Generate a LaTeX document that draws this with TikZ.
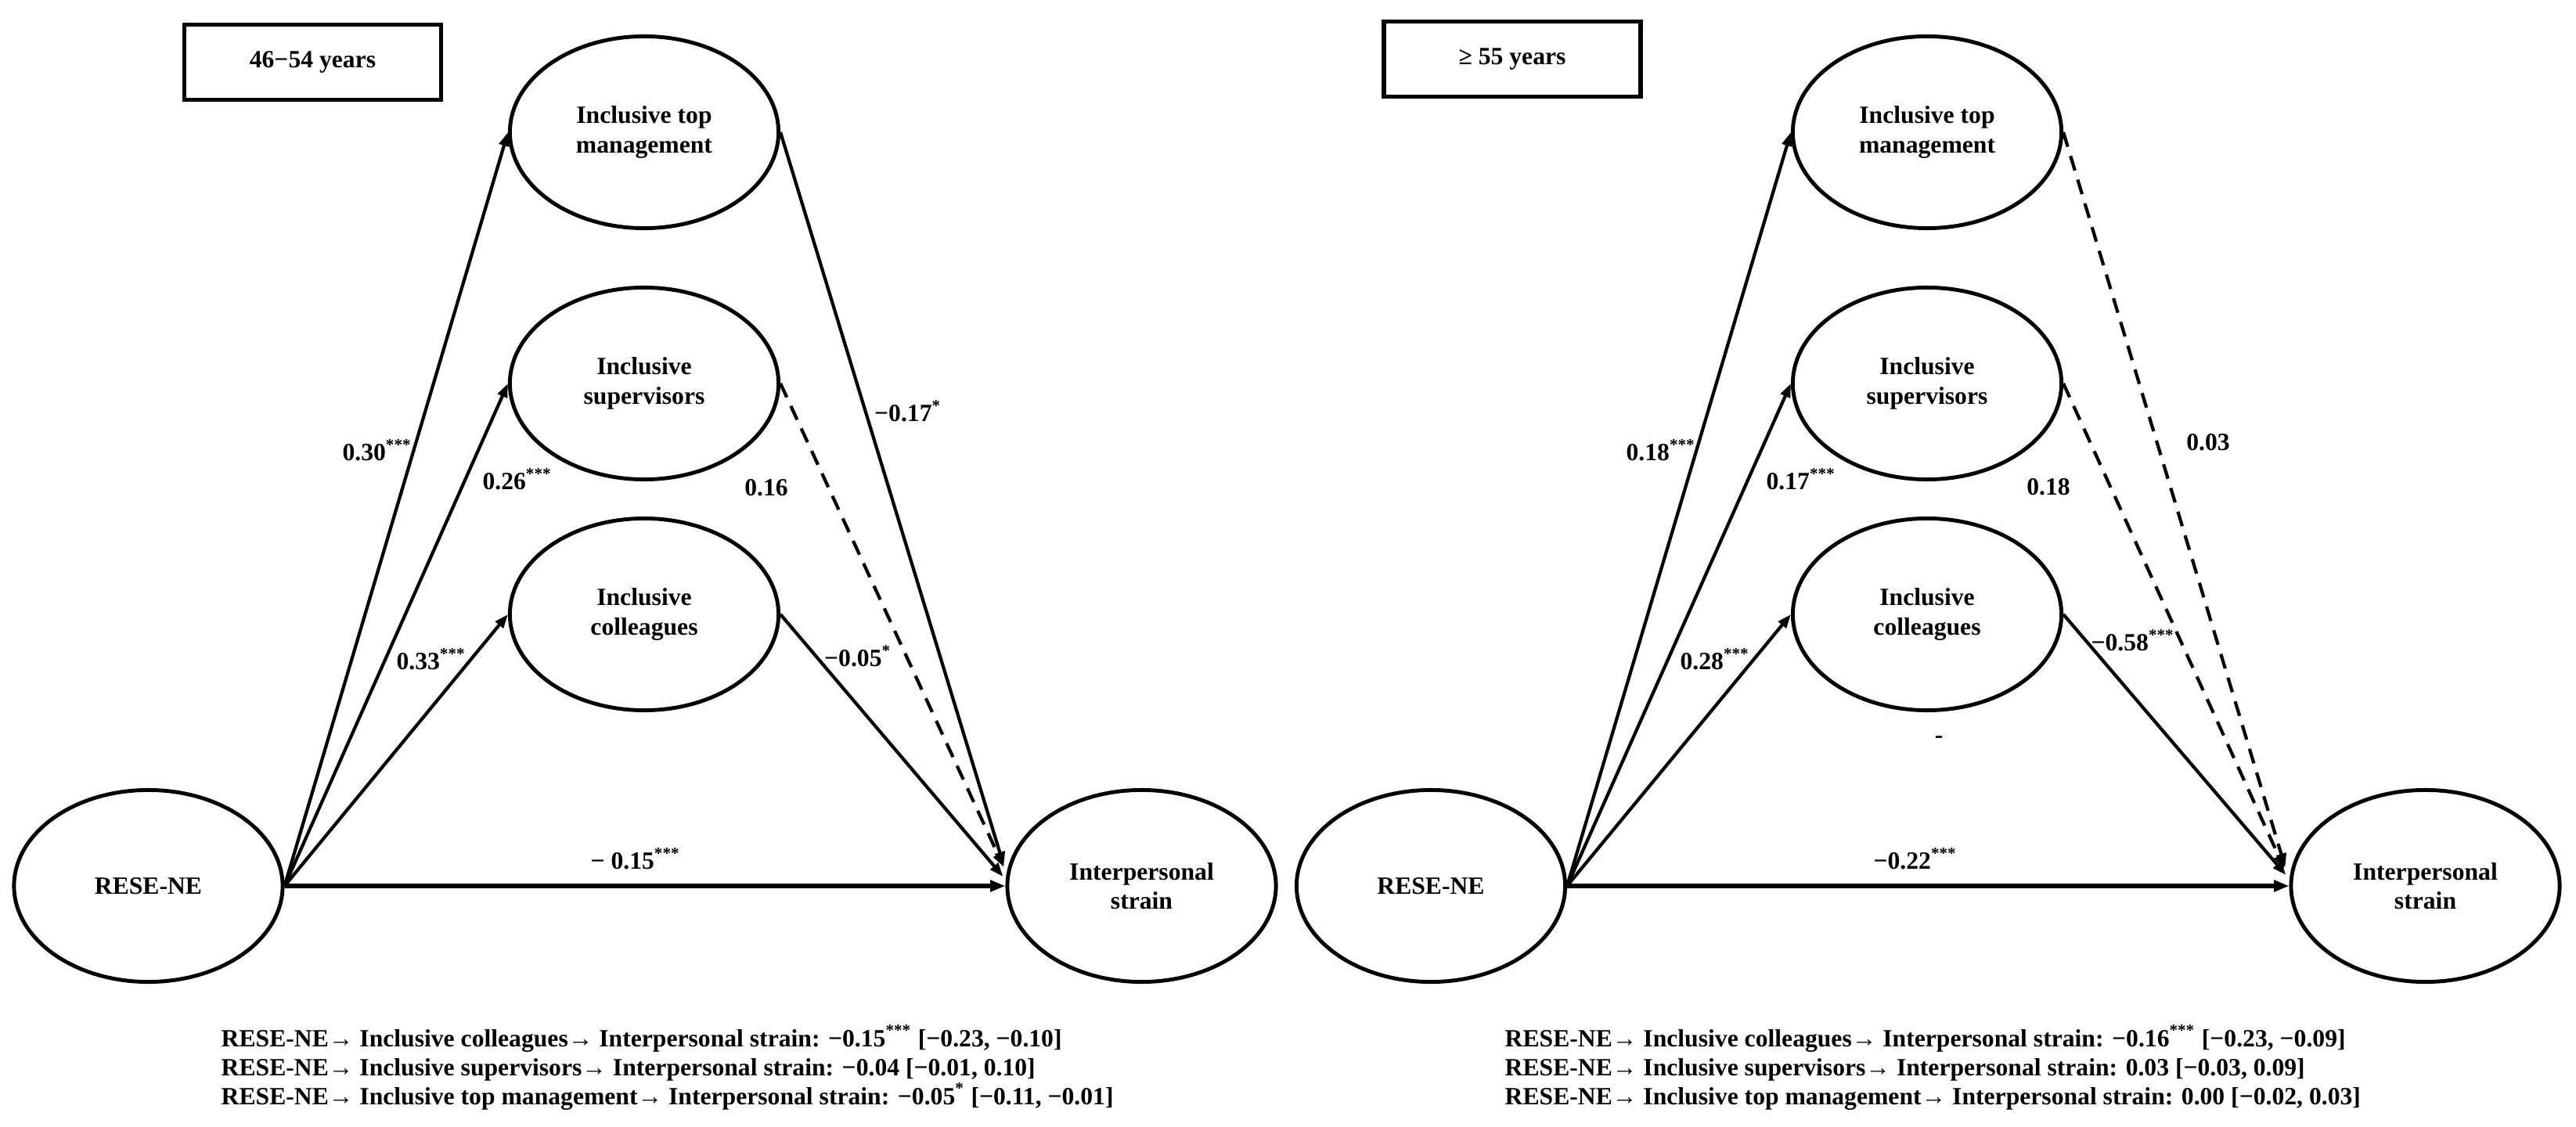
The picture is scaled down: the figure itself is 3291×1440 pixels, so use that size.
\documentclass[tikz,border=0pt]{standalone}
\usepackage{fontspec}
\setmainfont{Liberation Serif}
\usetikzlibrary{shapes.geometric,arrows.meta,calc}
\newcommand\dfont{\fontsize{9pt}{10.6pt}\selectfont\bfseries}
\newcommand\sig[1]{\textsuperscript{#1}}
\tikzset{
  lat/.style={ellipse, draw, line width=1.4pt, minimum width=3.43cm, minimum height=2.45cm, inner sep=0pt, align=center, font=\dfont},
  agebox/.style={draw, line width=1.5pt, minimum width=3.28cm, minimum height=0.96cm, inner sep=0pt, font=\dfont},
  arr/.style={line width=1.2pt, -{Triangle[length=5pt,width=3.6pt]}},
  arrdash/.style={arr, dash pattern=on 5.5pt off 3.5pt},
  arrdirect/.style={line width=1.7pt, -{Triangle[length=5.5pt,width=4pt]}},
  coef/.style={font=\dfont, inner sep=1pt},
  note/.style={font=\dfont, inner sep=0pt, anchor=base west},
}
\begin{document}
\begin{tikzpicture}[x=0.01cm,y=-0.01cm]
\useasboundingbox (0,0) rectangle (3291,1440);
\fill[white] (0,0) rectangle (3291,1440);

% ---------------- left panel ----------------
\node[agebox] (Lage) at (399.5,79.5) {46−54 years};
\node[lat] (Ltop) at (823,169) {Inclusive top\\management};
\node[lat] (Lsup) at (823,490) {Inclusive\\supervisors};
\node[lat] (Lcol) at (823,785) {Inclusive\\colleagues};
\node[lat] (Lx) at (189.5,1132) {RESE-NE};
\node[lat] (Ly) at (1458.5,1132) {Interpersonal\\strain};

\coordinate (Lyt) at ($(Ly.west)+(-2,-26)$);
\coordinate (Lys) at ($(Ly.west)+(-2,-24)$);
\coordinate (Lyc) at ($(Ly.west)+(-3,-12)$);

\draw[arr] (Lx.east) -- (Ltop.west);
\draw[arr] (Lx.east) -- (Lsup.west);
\draw[arr] (Lx.east) -- (Lcol.west);
\draw[arrdirect] (Lx.east) -- (Ly.west);
\draw[arr] (Ltop.east) -- (Lyt);
\draw[arrdash] (Lsup.east) -- (Lys);
\draw[arr] (Lcol.east) -- (Lyc);

\node[coef] (Lc1) at (482,575) {0.30\sig{***}};
\node[coef] (Lc2) at (661,612) {0.26\sig{***}};
\node[coef] (Lc3) at (551,842) {0.33\sig{***}};
\node[coef] (Lc4) at (1160,525) {−0.17\sig{*}};
\node[coef] (Lc5) at (979,623) {0.16};
\node[coef] (Lc6) at (1096,838) {−0.05\sig{*}};
\node[coef] (Lc7) at (812,1097) {− 0.15\sig{***}};

\node[note] (Ln1) at (282,1337) {RESE-NE→ Inclusive colleagues→ Interpersonal strain: −0.15\sig{***} [−0.23, −0.10]};
\node[note] (Ln2) at (282,1374) {RESE-NE→ Inclusive supervisors→ Interpersonal strain: −0.04 [−0.01, 0.10]};
\node[note] (Ln3) at (282,1411) {RESE-NE→ Inclusive top management→ Interpersonal strain: −0.05\sig{*} [−0.11, −0.01]};

% ---------------- right panel ----------------
\node[agebox] (Rage) at (1932,75.5) {≥ 55 years};
\node[lat] (Rtop) at (2462,169) {Inclusive top\\management};
\node[lat] (Rsup) at (2462,490) {Inclusive\\supervisors};
\node[lat] (Rcol) at (2462,785) {Inclusive\\colleagues};
\node[lat] (Rx) at (1828,1132) {RESE-NE};
\node[lat] (Ry) at (3098.5,1132) {Interpersonal\\strain};

\coordinate (Ryt) at ($(Ry.west)+(-5,-24)$);
\coordinate (Rys) at ($(Ry.west)+(-6,-22)$);
\coordinate (Ryc) at ($(Ry.west)+(-4,-14)$);

\draw[arr] (Rx.east) -- (Rtop.west);
\draw[arr] (Rx.east) -- (Rsup.west);
\draw[arr] (Rx.east) -- (Rcol.west);
\draw[arrdirect] (Rx.east) -- (Ry.west);
\draw[arrdash] (Rtop.east) -- (Ryt);
\draw[arrdash] (Rsup.east) -- (Rys);
\draw[arr] (Rcol.east) -- (Ryc);

\node[coef] (Rc1) at (2122,575) {0.18\sig{***}};
\node[coef] (Rc2) at (2301,612) {0.17\sig{***}};
\node[coef] (Rc3) at (2191,842) {0.28\sig{***}};
\node[coef] (Rc4) at (2821,565) {0.03};
\node[coef] (Rc5) at (2617,622) {0.18};
\node[coef] (Rc6) at (2725,818) {−0.58\sig{***}};
\node[coef] (Rc7) at (2447,1097) {−0.22\sig{***}};
\node[coef] (Rdash) at (2477,945) {-};

\node[note] (Rn1) at (1922,1337) {RESE-NE→ Inclusive colleagues→ Interpersonal strain: −0.16\sig{***} [−0.23, −0.09]};
\node[note] (Rn2) at (1922,1374) {RESE-NE→ Inclusive supervisors→ Interpersonal strain: 0.03 [−0.03, 0.09]};
\node[note] (Rn3) at (1922,1411) {RESE-NE→ Inclusive top management→ Interpersonal strain: 0.00 [−0.02, 0.03]};
\end{tikzpicture}
\end{document}
